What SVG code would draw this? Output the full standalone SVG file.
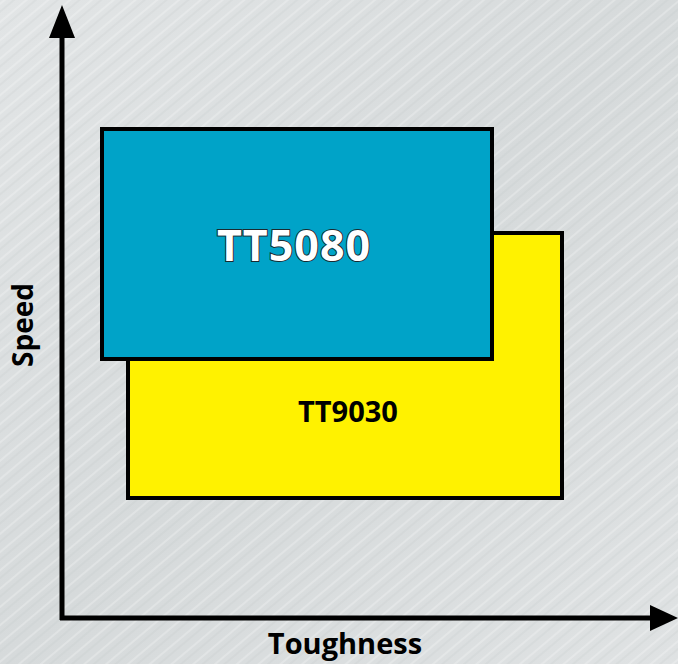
<svg xmlns="http://www.w3.org/2000/svg" width="678" height="664" viewBox="0 0 678 664">
<defs>
<linearGradient id="bg" x1="0" y1="0" x2="1" y2="1">
<stop offset="0" stop-color="#e2e5e6"/>
<stop offset="0.5" stop-color="#d6dadb"/>
<stop offset="1" stop-color="#dfe2e3"/>
</linearGradient>
<pattern id="brush" width="14" height="14" patternUnits="userSpaceOnUse" patternTransform="rotate(-40)">
<line x1="0" y1="3" x2="14" y2="3" stroke="#ffffff" stroke-opacity="0.4" stroke-width="1.2"/>
<line x1="0" y1="9" x2="14" y2="9" stroke="#b9bfc1" stroke-opacity="0.3" stroke-width="1"/>
</pattern>
<style>
.lbl{font-family:"Open Sans","Noto Sans","Liberation Sans",sans-serif;font-weight:bold;fill:#000}
.box{stroke:#000;stroke-width:4}
</style>
</defs>
<rect width="678" height="664" fill="url(#bg)"/>
<rect width="678" height="664" fill="url(#brush)"/>
<g id="axes">
<line x1="62" y1="36" x2="62" y2="620" stroke="#000" stroke-width="5"/>
<line x1="60" y1="618" x2="652" y2="618" stroke="#000" stroke-width="5"/>
<path d="M62,5 L75,38 L49,38 z" fill="#000"/>
<path d="M678,618 L650,605 L650,631 z" fill="#000"/>
</g>
<g id="TT9030">
<rect class="box" x="128" y="233" width="434" height="265" fill="#fff200"/>
<text class="lbl" x="348" y="422" font-size="29" text-anchor="middle">TT9030</text>
</g>
<g id="TT5080">
<rect class="box" x="102" y="129" width="390" height="230" fill="#00a3c8"/>
<text class="lbl" x="294" y="261" font-size="43" text-anchor="middle" style="fill:#fff;stroke:#1a2a30;stroke-width:2;paint-order:stroke" letter-spacing="1">TT5080</text>
</g>
<g id="labels">
<text class="lbl" x="345" y="654" font-size="29" text-anchor="middle">Toughness</text>
<text class="lbl" x="0" y="0" font-size="28" text-anchor="middle" transform="translate(33,325) rotate(-90)">Speed</text>
</g>
</svg>
